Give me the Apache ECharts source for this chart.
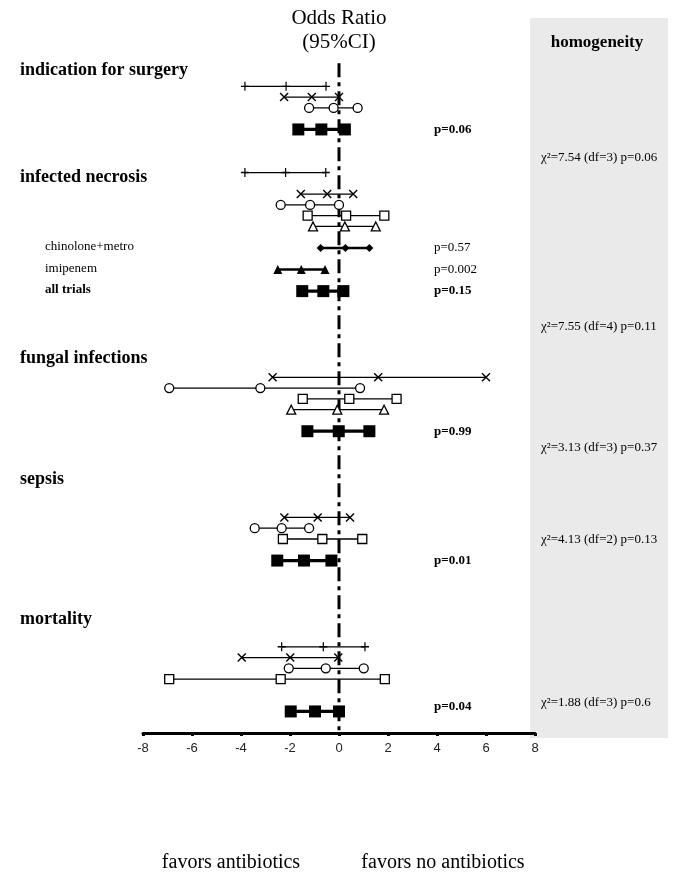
<!DOCTYPE html>
<html><head><meta charset="utf-8">
<script src="https://cdn.jsdelivr.net/npm/echarts@6.0.0/dist/echarts.min.js"></script>
<style>html,body{margin:0;padding:0;background:#fff}#c{width:675px;height:872px}</style>
</head><body><div id="c"></div>
<script>
// ---------- data ----------
const xTicks = [-8, -6, -4, -2, 0, 2, 4, 6, 8];
const groupNames = ['indication for surgery', 'infected necrosis', 'fungal infections', 'sepsis', 'mortality'];
const groupTitleRows = [1.5, 11.4, 28.2, 39.5, 52.5];

// each study: [low, estimate, high] on the log-odds-ratio scale
const surgeryKinds = ['plus', 'cross', 'circle'];
const surgeryRows = [3, 4, 5];
const surgeryCI = [[-3.84, -2.16, -0.53], [-2.24, -1.11, 0.0], [-1.22, -0.22, 0.76]];

const necrosisKinds = ['plus', 'cross', 'circle', 'square', 'triangle'];
const necrosisRows = [11, 13, 14, 15, 16];
const necrosisCI = [[-3.84, -2.18, -0.54], [-1.56, -0.48, 0.58], [-2.38, -1.18, 0.0], [-1.28, 0.29, 1.85], [-1.06, 0.24, 1.50]];

const fungalKinds = ['cross', 'circle', 'square', 'triangle'];
const fungalRows = [30, 31, 32, 33];
const fungalCI = [[-2.71, 1.60, 6.0], [-6.93, -3.21, 0.86], [-1.48, 0.42, 2.35], [-1.95, -0.07, 1.84]];

const sepsisKinds = ['cross', 'circle', 'square'];
const sepsisRows = [43, 44, 45];
const sepsisCI = [[-2.23, -0.87, 0.45], [-3.44, -2.34, -1.22], [-2.29, -0.68, 0.95]];

const mortalityKinds = ['plus', 'cross', 'circle', 'square'];
const mortalityRows = [55, 56, 57, 58];
const mortalityCI = [[-2.34, -0.64, 1.06], [-3.97, -1.99, -0.03], [-2.05, -0.54, 1.01], [-6.93, -2.38, 1.87]];

// subgroups of infected necrosis
const subgroupNames = ['chinolone+metro', 'imipenem', 'all trials'];
const subgroupKinds = ['diamondFilled', 'triangleFilled', 'pooled'];
const subgroupRows = [18, 20, 22];
const subgroupCI = [[-0.75, 0.26, 1.24], [-2.50, -1.54, -0.57], [-1.50, -0.64, 0.18]];
const subgroupP = ['p=0.57', 'p=0.002', 'p=0.15'];

// pooled estimates
const pooledRows = [7, 35, 47, 61];
const pooledCI = [[-1.66, -0.72, 0.24], [-1.29, -0.01, 1.24], [-2.52, -1.43, -0.31], [-1.97, -0.98, 0.0]];
const pooledP = ['p=0.06', 'p=0.99', 'p=0.01', 'p=0.04'];

// homogeneity tests
const homogText = ['7.54 (df=3) p=0.06', '7.55 (df=4) p=0.11', '3.13 (df=3) p=0.37', '4.13 (df=2) p=0.13', '1.88 (df=3) p=0.6'];
const homogRows = [9.65, 25.3, 36.55, 45.1, 60.2];

// ---------- styles ----------
const SERIF = 'Liberation Serif';
const markerStyle = {
  plus:   {symbol: 'path://M0,5L10,5M5,0L5,10', size: [8, 9], item: {color: 'transparent', borderColor: '#000', borderWidth: 1.3}},
  cross:  {symbol: 'path://M0,0L10,10M10,0L0,10', size: [8, 8], item: {color: 'transparent', borderColor: '#000', borderWidth: 1.4}},
  circle: {symbol: 'circle', size: 9, item: {color: '#fff', borderColor: '#000', borderWidth: 1.3}},
  square: {symbol: 'rect', size: 9, item: {color: '#fff', borderColor: '#000', borderWidth: 1.3}},
  triangle: {symbol: 'triangle', size: 9, item: {color: '#fff', borderColor: '#000', borderWidth: 1.3}},
  diamondFilled: {symbol: 'diamond', size: 8, item: {color: '#000'}},
  triangleFilled: {symbol: 'triangle', size: 9, item: {color: '#000'}},
  pooled: {symbol: 'rect', size: [12, 12], item: {color: '#000'}}
};
const lineWidth = {plus: 1.3, cross: 1.3, circle: 1.3, square: 1.3, triangle: 1.3, diamondFilled: 2.6, triangleFilled: 2.6, pooled: 3.2};

function ciSeries(ci, row, kind) {
  const m = markerStyle[kind];
  return {
    type: 'line', silent: true, animation: false,
    data: ci.map(v => [v, row]),
    symbol: m.symbol, symbolSize: m.size, symbolKeepAspect: true, showAllSymbol: true,
    itemStyle: m.item,
    lineStyle: {color: '#000', width: lineWidth[kind]},
    z: 5
  };
}

const series = [];
// reference line at 0
series.push({
  type: 'line', silent: true, animation: false, symbol: 'none',
  data: [[0, 0.85], [0, 63]],
  lineStyle: {color: '#000', width: 3, type: [14, 5, 4, 5]}, z: 3
});
[[surgeryCI, surgeryRows, surgeryKinds], [necrosisCI, necrosisRows, necrosisKinds], [fungalCI, fungalRows, fungalKinds],
 [sepsisCI, sepsisRows, sepsisKinds], [mortalityCI, mortalityRows, mortalityKinds]].forEach(([cis, rows, kinds]) => {
  cis.forEach((ci, i) => series.push(ciSeries(ci, rows[i], kinds[i])));
});
subgroupCI.forEach((ci, i) => series.push(ciSeries(ci, subgroupRows[i], subgroupKinds[i])));
pooledCI.forEach((ci, i) => series.push(ciSeries(ci, pooledRows[i], 'pooled')));

const chart = echarts.init(document.getElementById('c'));
chart.setOption({
  animation: false,
  backgroundColor: '#fff',
  grid: {left: 143, right: 140, top: 54, bottom: 139},
  xAxis: {
    type: 'value', position: 'bottom', min: xTicks[0], max: xTicks[xTicks.length - 1], interval: 2,
    axisLine: {onZero: false, lineStyle: {color: '#000', width: 3}},
    axisTick: {show: true, length: 3, lineStyle: {color: '#000', width: 3}},
    axisLabel: {color: '#222', fontFamily: 'Liberation Sans', fontSize: 13, margin: 9},
    splitLine: {show: false}
  },
  yAxis: {type: 'value', inverse: true, min: 0, max: 63, show: false},
  series: series
});

// ---------- text via the chart's own scales ----------
const px = (x, row) => chart.convertToPixel({gridIndex: 0}, [x, row]);
const g = [];
g.push({type: 'rect', z: -10, shape: {x: 530, y: 18, width: 138, height: 720}, style: {fill: '#eaeaea'}});
function txt(x, y, text, size, bold, align) {
  g.push({type: 'text', z: 10, x: x, y: y,
    style: {text: text, fontFamily: SERIF, fontSize: size, fontWeight: bold ? 'bold' : 'normal', fill: '#000',
      align: align || 'left', verticalAlign: 'middle'}});
}
const zeroX = px(0, 0)[0];
txt(zeroX, 18, 'Odds Ratio', 21, false, 'center');
txt(zeroX, 42, '(95%CI)', 21, false, 'center');
txt(597, 43, 'homogeneity', 17, true, 'center');
groupNames.forEach((n, i) => txt(20, px(0, groupTitleRows[i])[1], n, 18, true));
subgroupNames.forEach((n, i) => txt(45, px(0, subgroupRows[i])[1] - 1, n, 13, i === 2));
subgroupP.forEach((p, i) => txt(px(4, subgroupRows[i])[0] - 3, px(4, subgroupRows[i])[1], p, 13, i === 2));
pooledP.forEach((p, i) => txt(px(4, pooledRows[i])[0] - 3, px(4, pooledRows[i])[1] - (i === 3 ? 5 : 0), p, 13, true));
homogText.forEach((t, i) => txt(541, px(0, homogRows[i])[1], 'χ²=' + t, 13, false));
txt(231, 863, 'favors antibiotics', 20, false, 'center');
txt(443, 863, 'favors no antibiotics', 20, false, 'center');
chart.setOption({graphic: g});
</script>
</body></html>
